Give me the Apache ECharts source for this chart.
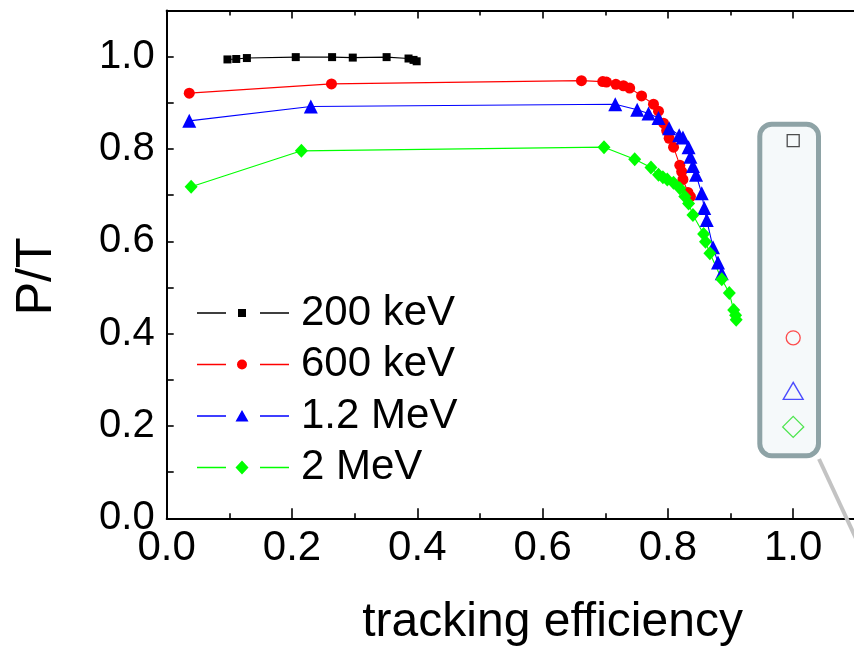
<!DOCTYPE html>
<html>
<head>
<meta charset="utf-8">
<script src="https://cdn.jsdelivr.net/npm/echarts@6/dist/echarts.min.js"></script>
<style>
html,body{margin:0;padding:0;background:#fff;}
#chart{width:854px;height:646px;}
</style>
</head>
<body>
<div id="chart"></div>
<script>
// ---- data ----
const seriesNames = ['200 keV', '600 keV', '1.2 MeV', '2 MeV'];

const x200 = [0.097, 0.111, 0.128, 0.206, 0.264, 0.297, 0.351, 0.386, 0.394, 0.399];
const y200 = [0.994, 0.995, 0.997, 0.999, 0.999, 0.998, 0.999, 0.996, 0.993, 0.990];

const x600 = [0.036, 0.263, 0.662, 0.696, 0.702, 0.717, 0.729, 0.739, 0.758, 0.777, 0.785, 0.793, 0.798, 0.802, 0.809, 0.819, 0.822, 0.824, 0.832, 0.836];
const y600 = [0.921, 0.941, 0.948, 0.946, 0.945, 0.940, 0.937, 0.932, 0.915, 0.897, 0.882, 0.856, 0.840, 0.823, 0.804, 0.765, 0.751, 0.734, 0.706, 0.697];

const x12 = [0.036, 0.230, 0.716, 0.751, 0.769, 0.785, 0.802, 0.818, 0.824, 0.833, 0.836, 0.840, 0.845, 0.854, 0.858, 0.862, 0.872, 0.880, 0.886];
const y12 = [0.861, 0.892, 0.897, 0.885, 0.877, 0.867, 0.845, 0.830, 0.825, 0.804, 0.783, 0.763, 0.744, 0.704, 0.672, 0.646, 0.587, 0.554, 0.531];

const x2 = [0.039, 0.215, 0.698, 0.747, 0.773, 0.785, 0.792, 0.799, 0.809, 0.819, 0.827, 0.833, 0.840, 0.857, 0.860, 0.867, 0.886, 0.898, 0.905, 0.908, 0.909];
const y2 = [0.718, 0.796, 0.804, 0.778, 0.760, 0.744, 0.739, 0.734, 0.727, 0.715, 0.697, 0.682, 0.657, 0.616, 0.599, 0.574, 0.518, 0.488, 0.451, 0.440, 0.430];

// hollow markers of the cut-off inset legend at the right
const insetX = [1.0, 1.0, 1.0, 1.0];
const insetY = [0.818, 0.391, 0.276, 0.198];

const xTickLabels = ['0.0', '0.2', '0.4', '0.6', '0.8', '1.0'];
const yTickLabels = ['0.0', '0.2', '0.4', '0.6', '0.8', '1.0'];

// ---- build ----
function zip(xs, ys) { return xs.map((x, i) => [x, ys[i]]); }
const FONT = 'Liberation Sans';

const styles = [
  { color: '#000000', symbol: 'rect', size: 8 },
  { color: '#ff0000', symbol: 'circle', size: 11 },
  { color: '#0000ff', symbol: 'triangle', size: 14 },
  { color: '#00ff00', symbol: 'diamond', size: [13, 14] }
];
const dataSets = [zip(x200, y200), zip(x600, y600), zip(x12, y12), zip(x2, y2)];

// legend icons: line – marker – line, in a 92 x 14 box (tiny corner dots fix the box)
const box = 'M0 0h0.01v0.01h-0.01z M91.99 13.99h0.01v0.01h-0.01z ';
const segs = 'M0 6.3h29v1.4H0z M63 6.3h29v1.4H63z ';
const legendMarks = [
  'M41 3h8v8h-8z',
  'M40 7a5 5 0 1 0 10 0a5 5 0 1 0 -10 0z',
  'M45 1L51.5 12.5H38.5z',
  'M45 0L51.5 7L45 14L38.5 7z'
];

const lineSeries = dataSets.map((d, i) => ({
  name: seriesNames[i],
  type: 'line',
  data: d,
  symbol: styles[i].symbol,
  symbolSize: styles[i].size,
  showAllSymbol: true,
  color: styles[i].color,
  lineStyle: { width: 1.1, color: styles[i].color },
  itemStyle: { color: styles[i].color },
  emphasis: { disabled: true },
  animation: false,
  z: 3
}));

const insetStyles = [
  { symbol: 'rect', size: 12, color: '#222222' },
  { symbol: 'circle', size: 14, color: '#ff2020' },
  { symbol: 'triangle', size: [20, 17], color: '#2020ff' },
  { symbol: 'diamond', size: 21, color: '#20e020' }
];
const insetSeries = {
  type: 'scatter',
  silent: true,
  animation: false,
  z: 4,
  data: insetX.map((x, i) => ({
    value: [x, insetY[i]],
    symbol: insetStyles[i].symbol,
    symbolSize: insetStyles[i].size,
    itemStyle: { color: 'transparent', borderColor: insetStyles[i].color, borderWidth: 1.3 }
  }))
};

function fmt1(v) { return (Math.round(v * 10) / 10).toFixed(1); }

const axisCommon = {
  axisLine: { show: true, onZero: false, lineStyle: { color: '#000', width: 2 } },
  splitLine: { show: false }
};

const option = {
  backgroundColor: '#ffffff',
  animation: false,
  grid: { left: 166.7, top: 10.5, width: 751.8, height: 507.8, outerBoundsMode: 'none', containLabel: false },
  legend: {
    data: seriesNames.map((n, i) => ({
      name: n,
      icon: 'path://' + box + segs + legendMarks[i],
      itemStyle: { color: styles[i].color }
    })),
    orient: 'vertical',
    left: 197,
    top: 292,
    padding: 0,
    itemWidth: 92,
    itemHeight: 14,
    itemGap: 9.5,
    selectedMode: false,
    textStyle: { fontFamily: FONT, fontSize: 42, lineHeight: 42, color: '#000', padding: [0, 0, 0, 7] }
  },
  xAxis: [
    Object.assign({}, axisCommon, {
      type: 'value', position: 'bottom', min: 0, max: 1.2, interval: 0.2,
      axisTick: { show: true, inside: true, length: 10, lineStyle: { color: '#000', width: 1.6 } },
      minorTick: { show: true, splitNumber: 2, length: 5, lineStyle: { color: '#000', width: 1.6 } },
      axisLabel: {
        show: true, margin: 9, color: '#000', fontFamily: FONT, fontSize: 42, lineHeight: 42,
        formatter: v => { const s = fmt1(v); return xTickLabels.indexOf(s) >= 0 ? s : ''; }
      },
      name: 'tracking efficiency',
      nameLocation: 'middle',
      nameGap: 80,
      nameTextStyle: { fontFamily: FONT, fontSize: 48, lineHeight: 48, color: '#000', padding: [0, 0, 0, 20] }
    }),
    Object.assign({}, axisCommon, {
      type: 'value', position: 'top', min: 0, max: 1.2, interval: 0.2,
      axisTick: { show: true, inside: true, length: 8, lineStyle: { color: '#000', width: 1.6 } },
      minorTick: { show: true, splitNumber: 2, length: 5, lineStyle: { color: '#000', width: 1.6 } },
      axisLabel: { show: false }
    })
  ],
  yAxis: [
    Object.assign({}, axisCommon, {
      type: 'value', min: 0, max: 1.1, interval: 0.1,
      axisTick: { show: true, inside: true, length: 7, lineStyle: { color: '#000', width: 1.6 } },
      axisLabel: {
        show: true, margin: 12, color: '#000', fontFamily: FONT, fontSize: 40, lineHeight: 40,
        formatter: v => { const s = fmt1(v); return yTickLabels.indexOf(s) >= 0 ? s : ''; }
      },
      name: 'P/T',
      nameLocation: 'middle',
      nameRotate: 90,
      nameGap: 104,
      nameTextStyle: { fontFamily: FONT, fontSize: 50, lineHeight: 50, color: '#000', padding: [0, 24, 0, 0] }
    })
  ],
  graphic: [
    {
      type: 'rect', z: 1, silent: true,
      shape: { x: 759.8, y: 124.2, width: 58.7, height: 331.6, r: 12 },
      style: { fill: '#f5f9fa', stroke: '#8ea3a6', lineWidth: 5 }
    },
    {
      type: 'line', z: 1, silent: true,
      shape: { x1: 819, y1: 459, x2: 872, y2: 573 },
      style: { stroke: '#c3c3c3', lineWidth: 4 }
    }
  ],
  series: lineSeries.concat([insetSeries])
};

const chart = echarts.init(document.getElementById('chart'), null, { renderer: 'canvas' });
chart.setOption(option);
</script>
</body>
</html>
